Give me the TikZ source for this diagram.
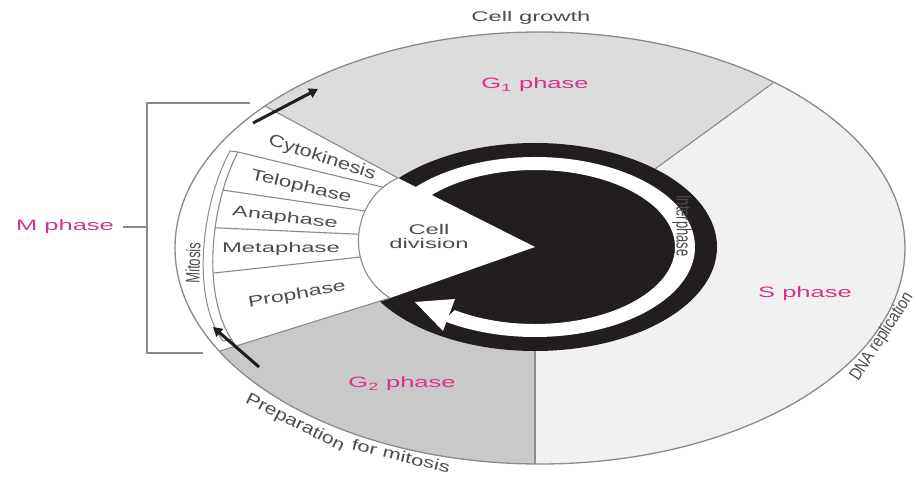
\documentclass[tikz,border=0pt]{standalone}
\usepackage{fontspec}
\setmainfont{Liberation Sans}
\usetikzlibrary{calc,arrows.meta}
\definecolor{gonefill}{HTML}{DCDCDC}
\definecolor{sfill}{HTML}{F1F1F1}
\definecolor{gtwofill}{HTML}{C9C9C9}
\definecolor{ringblk}{HTML}{221E1F}
\definecolor{edgegray}{HTML}{8A8A8A}
\definecolor{txtgray}{HTML}{4D4D4D}
\definecolor{phmag}{HTML}{D6338C}
\newcommand{\stx}[3]{\scalebox{#1}[#2]{#3}}
\begin{document}
\begin{tikzpicture}[x=1pt,y=-1pt,
  lab/.style={inner sep=0pt, text=txtgray, font=\fontsize{14}{16}\selectfont},
  phlab/.style={inner sep=0pt, text=phmag, font=\fontsize{15}{17}\selectfont},
  edge/.style={draw=edgegray, line width=1.1pt},
  bigarrow/.style={draw=ringblk, line width=3pt, -{Triangle[length=9pt,width=10pt]}}
]
\useasboundingbox (0,0) rectangle (916,478);
\fill[white] (0,0) rectangle (916,478);
\coordinate (O) at (540,248);
\coordinate (C) at (535,247);
% sector fills
\begin{scope}
\clip (O) ellipse [x radius=365pt, y radius=216pt];
\fill[sfill] (0,0) rectangle (916,478);
\fill[gonefill] (398,178) -- (200,71) -- (200,0) -- (850,0) -- (850,27) -- (655,169) -- (C) -- cycle;
\fill[gtwofill] (390,298) -- (150,373) -- (150,478) -- (535,478) -- (C) -- cycle;
\end{scope}
\draw[edge] (773,83) -- (655,169);
\draw[edge] (535,351) -- (535,464);
% central ring, disk and white arrow band
\fill[ringblk] (C) ellipse [x radius=182pt, y radius=104pt];
\fill[ringblk] (C) ellipse [x radius=140pt, y radius=77pt];
\fill[white] ($(C)+(139:160pt and 90pt)$) arc[start angle=139, end angle=-125, x radius=160pt, y radius=90pt]
  -- ($(C)+(-125:140pt and 77pt)$) arc[start angle=-125, end angle=139, x radius=140pt, y radius=77pt] -- cycle;
\fill[white] (443,331) -- (415,302) -- (455,299) -- cycle;
% M region and cell division wedge
\fill[white] (398,178) -- (200,71) -- (100,71) -- (100,400) -- (150,373) -- (390,298)
  .. controls (342,268) and (352,198) .. (398,178) -- cycle;
\fill[white] (C) -- (398,178) .. controls (352,198) and (342,268) .. (390,298) -- cycle;
\draw[edge] (265,106) -- (398,178);
\draw[edge] (220,351) -- (390,298);
\draw[edge] (398,178) .. controls (352,198) and (342,268) .. (390,298)
  coordinate[pos=0.12] (w1) coordinate[pos=0.33] (w2) coordinate[pos=0.5] (w3) coordinate[pos=0.66] (w4);
\draw[edge] (238,152) .. controls (210,205) and (200,300) .. (236,346)
  coordinate[pos=0] (b1) coordinate[pos=0.21] (b2) coordinate[pos=0.39] (b3) coordinate[pos=0.6] (b4);
\draw[edge] (b1) -- (w1);
\draw[edge] (b2) -- (w2);
\draw[edge] (b3) -- (w3);
\draw[edge] (b4) -- (w4);
% mitosis bracket
\draw[edge, line width=1pt] (b1) -- (230,151) .. controls (201,205) and (191,298) .. (223,341) -- (232,339);
% outer ellipse
\draw[edgegray, line width=1.3pt] (O) ellipse [x radius=365pt, y radius=216pt];
% M phase bracket
\coordinate (mbr) at (147,227);
\draw[edgegray, line width=1.6pt] (250,103) -- (147,103) -- (147,353) -- (203,353);
% black arrows
\coordinate (ta1) at (253,123);
\coordinate (ta2) at (318,89);
\coordinate (ba1) at (259,367);
\coordinate (ba2) at (213,327);
\draw[bigarrow] (ta1) -- (ta2);
\draw[bigarrow] (ba1) -- (ba2);
% labels
\node[lab] (growth) at (531,18) {\stx{1.7}{1}{Cell growth}};
\node[phlab] (gone) at (535,85) {\stx{1.7}{1}{G\textsubscript{1} phase}};
\node[phlab] (sph) at (805,294) {\stx{1.7}{1}{S phase}};
\node[phlab] (gtwo) at (402,384) {\stx{1.7}{1}{G\textsubscript{2} phase}};
\node[phlab] (mph) at (65,227) {\stx{1.7}{1}{M phase}};
\draw[edgegray, line width=1.3pt, shorten <=9pt] (mph.east) -- (mbr);
\node[lab] (celldiv) at (429,238) {\stx{1.7}{1}{\begin{tabular}{@{}c@{}}Cell\\[-2pt]division\end{tabular}}};
\node[lab, rotate=-18] (cyto) at (322,158) {\stx{1.56}{1.2}{Cytokinesis}};
\node[lab, rotate=-13] (telo) at (301,187) {\stx{1.61}{1.13}{Telophase}};
\node[lab, rotate=-7] (ana) at (285,218) {\stx{1.68}{1.05}{Anaphase}};
\node[lab] (meta) at (281,249) {\stx{1.7}{1}{Metaphase}};
\node[lab, rotate=10] (pro) at (297,295) {\stx{1.65}{1.1}{Prophase}};
\node[lab, rotate=88, font=\fontsize{13}{15}\selectfont] (mit) at (193,263) {\stx{1}{1.5}{Mitosis}};
\node[lab, rotate=-90, font=\fontsize{13}{15}\selectfont] (inter) at (682,226) {\stx{1}{1.6}{Interphase}};
\node[lab, rotate=-27] (prepa) at (295,423) {\stx{1.5}{1.2}{Preparation}};
\node[lab, rotate=-14] (prepb) at (401,456) {\stx{1.58}{1.1}{for mitosis}};
\node[lab, rotate=57, font=\fontsize{13}{15}\selectfont] (dna) at (882,337) {\stx{1.12}{1.35}{DNA replication}};
\end{tikzpicture}
\end{document}
